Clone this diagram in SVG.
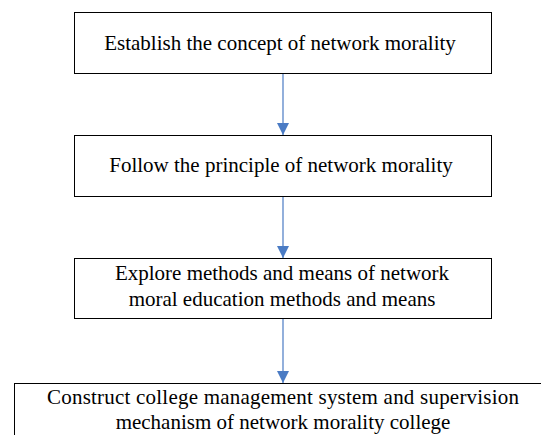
<svg xmlns="http://www.w3.org/2000/svg" width="541" height="435" viewBox="0 0 541 435">
<defs>
<style>
.box{fill:#fff;stroke:#000;stroke-width:1}
text{font-family:'Liberation Serif',serif;font-size:21px;fill:#000;text-anchor:middle}
.c{stroke:#4a7bc4;stroke-width:1.2;fill:none}
</style>
<marker id="ah" markerWidth="12" markerHeight="16" refX="12" refY="8" orient="auto" markerUnits="userSpaceOnUse">
<path d="M0,2 L12,8 L0,14 Z" fill="#4a7bc4"/>
</marker>
</defs>
<rect width="541" height="435" fill="#fff"/>
<g id="connectors">
<line class="c" x1="283" y1="73" x2="283" y2="135" marker-end="url(#ah)"/>
<line class="c" x1="283" y1="196" x2="283" y2="258" marker-end="url(#ah)"/>
<line class="c" x1="283" y1="318" x2="283" y2="383" marker-end="url(#ah)"/>
</g>
<g id="n1">
<rect class="box" x="74.5" y="12.5" width="417" height="61"/>
<text x="280" y="50">Establish the concept of network morality</text>
</g>
<g id="n2">
<rect class="box" x="74.5" y="135.5" width="417" height="61"/>
<text x="281" y="172">Follow the principle of network morality</text>
</g>
<g id="n3">
<rect class="box" x="74.5" y="258.5" width="417" height="60"/>
<text x="282" y="280">Explore methods and means of network</text>
<text x="282" y="306">moral education methods and means</text>
</g>
<g id="n4">
<rect class="box" x="14.5" y="383.5" width="540" height="60"/>
<text x="283" y="404" textLength="472" lengthAdjust="spacing">Construct college management system and supervision</text>
<text x="283" y="429">mechanism of network morality college</text>
</g>
</svg>
